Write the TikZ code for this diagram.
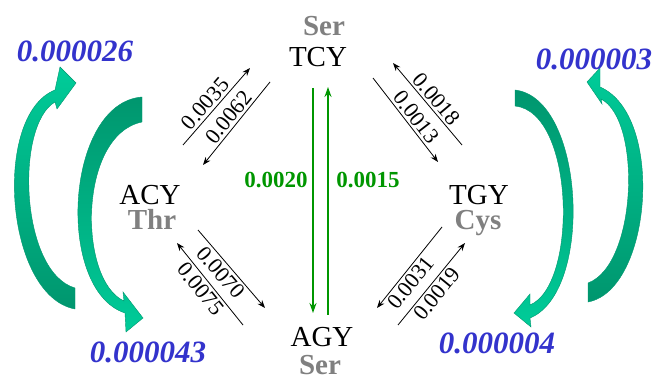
\documentclass[tikz,border=0pt]{standalone}
\usepackage{fontspec}
\setmainfont{Liberation Serif}
\usetikzlibrary{arrows.meta}
\definecolor{lblgray}{RGB}{128,128,128}
\definecolor{lblblue}{RGB}{51,51,204}
\definecolor{lblgreen}{RGB}{0,150,0}
\definecolor{arrlight}{RGB}{0,204,153}
\definecolor{arrdark}{RGB}{0,150,110}
\begin{document}
\begin{tikzpicture}[x=1pt,y=-1pt,
  codon/.style={inner sep=0pt, anchor=base, font=\fontsize{29}{29}\selectfont},
  amino/.style={inner sep=0pt, anchor=base, text=lblgray, font=\fontsize{29}{29}\selectfont\bfseries},
  rate/.style={font=\fontsize{31}{31}\selectfont\bfseries\itshape, text=lblblue, inner sep=0pt},
  vrate/.style={font=\fontsize{23}{23}\selectfont\bfseries, text=lblgreen, inner sep=0pt},
  prob/.style={font=\fontsize{22}{22}\selectfont, sloped, inner sep=2.5pt},
  trans/.style={draw=black, line width=0.8pt},
  fwd/.style={-{Stealth[length=8pt,width=6pt]}},
  bwd/.style={{Stealth[length=8pt,width=6pt]}-},
  vtrans/.style={draw=lblgreen, line width=2pt, -{Stealth[length=10pt,width=7pt]}},
  bigarrow/.style={draw=arrdark, line width=0.4pt},
]
\useasboundingbox (0,0) rectangle (656,379);

% big curved arrows
\path[bigarrow, top color=arrlight, bottom color=arrdark]
 (75,309) .. controls (5,296) and (-8,115) .. (55,90)
 -- (60,67) -- (76,83) -- (57,109) -- (55,102)
 .. controls (15,125) and (20,272) .. (75,288) -- cycle;
\path[bigarrow, top color=arrdark, bottom color=arrlight]
 (142,97) .. controls (65,103) and (55,290) .. (125,313)
 -- (126,332) -- (143,318) -- (123,292) -- (124,301)
 .. controls (78,280) and (78,135) .. (142,122) -- cycle;
\path[bigarrow, top color=arrdark, bottom color=arrlight]
 (515,90) .. controls (585,98) and (594,292) .. (530,318)
 -- (531,327) -- (514,313) -- (530,294) -- (530,305)
 .. controls (578,285) and (575,112) .. (515,106) -- cycle;
\path[bigarrow, top color=arrlight, bottom color=arrdark]
 (588,302) .. controls (652,290) and (665,115) .. (600,87)
 -- (600,68) -- (587,82) -- (602,104) -- (601,99)
 .. controls (642,120) and (637,265) .. (588,283) -- cycle;

% rates
\node[rate] (r1) at (75,51) {0.000026};
\node[rate] (r2) at (148,352) {0.000043};
\node[rate] (r3) at (594,59) {0.000003};
\node[rate] (r4) at (497,343) {0.000004};

% codons
\node[amino] (serT) at (324,36) {Ser};
\node[codon] (TCY) at (318,67) {TCY};
\node[codon] (ACY) at (150,205) {ACY};
\node[amino] (thr) at (152,230) {Thr};
\node[codon] (TGY) at (479,205) {TGY};
\node[amino] (cys) at (478,230) {Cys};
\node[codon] (AGY) at (322,347) {AGY};
\node[amino] (serB) at (320,374) {Ser};

% endpoints
\coordinate (ul1a) at (183,145); \coordinate (ul1b) at (250,68);
\coordinate (ul2a) at (203,165); \coordinate (ul2b) at (270,82);
\coordinate (ur1a) at (393,63);  \coordinate (ur1b) at (462,145);
\coordinate (ur2a) at (373,78);  \coordinate (ur2b) at (438,162);
\coordinate (ll1a) at (198,230); \coordinate (ll1b) at (265,308);
\coordinate (ll2a) at (177,243); \coordinate (ll2b) at (243,325);
\coordinate (lr1a) at (377,308); \coordinate (lr1b) at (442,227);
\coordinate (lr2a) at (398,325); \coordinate (lr2b) at (465,243);
\coordinate (g1a) at (313,88);   \coordinate (g1b) at (313,313);
\coordinate (g2a) at (328,315);  \coordinate (g2b) at (328,87);

\draw[trans,fwd] (ul1a) -- node[prob, above, pos=0.45] (p1) {0.0035} (ul1b);
\draw[trans,bwd] (ul2a) -- node[prob, above, pos=0.5] (p2) {0.0062} (ul2b);
\draw[trans,bwd] (ur1a) -- node[prob, above, pos=0.52] (p3) {0.0018} (ur1b);
\draw[trans,fwd] (ur2a) -- node[prob, above, pos=0.54] (p4) {0.0013} (ur2b);
\draw[trans,fwd] (ll1a) -- node[prob, below, pos=0.46] (p5) {0.0070} (ll1b);
\draw[trans,bwd] (ll2a) -- node[prob, below, pos=0.48] (p6) {0.0075} (ll2b);
\draw[trans,bwd] (lr1a) -- node[prob, below, pos=0.39] (p7) {0.0031} (lr1b);
\draw[trans,fwd] (lr2a) -- node[prob, below, pos=0.46] (p8) {0.0019} (lr2b);

\draw[vtrans] (g1a) -- (g1b);
\draw[vtrans] (g2a) -- (g2b);
\node[vrate] (v1) at (276,180) {0.0020};
\node[vrate] (v2) at (368,180) {0.0015};
\end{tikzpicture}
\end{document}
